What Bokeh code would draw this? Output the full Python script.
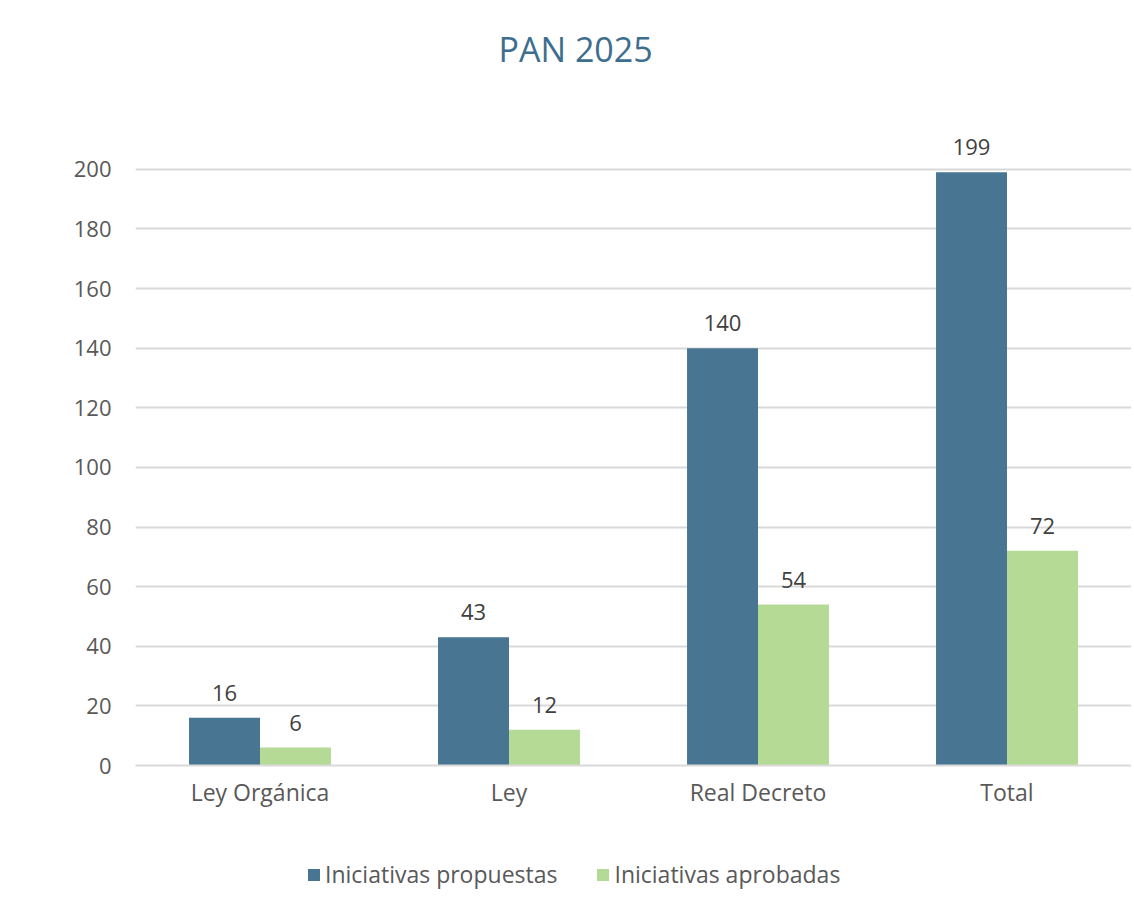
from bokeh.plotting import figure
from bokeh.models import FactorRange, Range1d, FixedTicker, Legend, LegendItem, ColumnDataSource, Title
from bokeh.layouts import column
from bokeh.transform import dodge
from bokeh.core.properties import value
from bokeh.embed import file_html
from bokeh.resources import INLINE

categories = ["Ley Orgánica", "Ley", "Real Decreto", "Total"]
propuestas = [16, 43, 140, 199]
aprobadas = [6, 12, 54, 72]
series_names = ["Iniciativas propuestas", "Iniciativas aprobadas"]
y_ticks = list(range(0, 201, 20))
title_text = "PAN 2025"

BLUE = "#477592"
GREEN = "#B5DA96"
FONT = "Open Sans"

src = ColumnDataSource(dict(
    cat=categories,
    prop=propuestas,
    apr=aprobadas,
    prop_lbl=[str(v) for v in propuestas],
    apr_lbl=[str(v) for v in aprobadas],
))

xr = FactorRange(factors=categories, range_padding=0)
p = figure(
    x_range=xr,
    y_range=Range1d(0, 212),
    frame_width=996, frame_height=632,
    min_border_left=135, min_border_right=0,
    min_border_top=133, min_border_bottom=45,
    output_backend="svg", toolbar_location=None,
)

# spacer between the title and the plot area, then the title itself
p.add_layout(Title(text=" ", text_font_size="10px", standoff=49), "above")
p.add_layout(Title(text=title_text, text_font=FONT, text_font_size="34px",
                   text_font_style="normal", text_color="#3E6E8E",
                   align="left", offset=363, standoff=0), "above")

bw = 0.285
p.vbar(x=dodge("cat", -bw / 2, range=xr), top="prop", width=bw, source=src,
       fill_color=BLUE, line_color=None)
p.vbar(x=dodge("cat", bw / 2, range=xr), top="apr", width=bw, source=src,
       fill_color=GREEN, line_color=None)

p.text(x=dodge("cat", -bw / 2, range=xr), y="prop", text="prop_lbl", source=src,
       text_align="center", text_baseline="bottom", y_offset=-17,
       text_font=value(FONT), text_font_size="22px", text_color="#404040")
p.text(x=dodge("cat", bw / 2, range=xr), y="apr", text="apr_lbl", source=src,
       text_align="center", text_baseline="bottom", y_offset=-17,
       text_font=value(FONT), text_font_size="22px", text_color="#404040")

p.outline_line_color = None
p.xgrid.grid_line_color = None
p.ygrid.grid_line_color = "#D9D9D9"
p.ygrid.grid_line_width = 2
p.yaxis.ticker = FixedTicker(ticks=y_ticks)

p.yaxis.axis_line_color = None
p.yaxis.major_tick_line_color = None
p.yaxis.minor_tick_line_color = None
p.yaxis.major_label_standoff = 18
p.yaxis.major_label_text_font = FONT
p.yaxis.major_label_text_font_size = "22px"
p.yaxis.major_label_text_color = "#595959"

p.xaxis.axis_line_color = "#D9D9D9"
p.xaxis.axis_line_width = 2
p.xaxis.major_tick_line_color = None
p.xaxis.minor_tick_line_color = None
p.xaxis.major_label_standoff = 4
p.xaxis.major_label_text_font = FONT
p.xaxis.major_label_text_font_size = "23px"
p.xaxis.major_label_text_color = "#595959"

# legend strip below the chart
lg = figure(
    x_range=xr, y_range=Range1d(1000, 1001),
    width=1131, height=90,
    min_border_left=0, min_border_right=0, min_border_top=0, min_border_bottom=0,
    x_axis_type=None, y_axis_type=None,
    output_backend="svg", toolbar_location=None,
)
lg.outline_line_color = None
lg.xgrid.grid_line_color = None
lg.ygrid.grid_line_color = None
k1 = lg.vbar(x=dodge("cat", -bw / 2, range=xr), top="prop", width=bw, source=src,
             fill_color=BLUE, line_color=None)
k2 = lg.vbar(x=dodge("cat", bw / 2, range=xr), top="apr", width=bw, source=src,
             fill_color=GREEN, line_color=None)

legend = Legend(
    items=[LegendItem(label=series_names[0], renderers=[k1]),
           LegendItem(label=series_names[1], renderers=[k2])],
    orientation="horizontal", location=(171, 10),
    glyph_width=15, glyph_height=15, label_standoff=4, spacing=38,
    label_text_font=FONT, label_text_font_size="23px", label_text_color="#595959",
    border_line_color=None, background_fill_alpha=0, padding=5, margin=0,
)
lg.add_layout(legend)

layout = column(p, lg, spacing=0)
open("out.html", "w").write(file_html(layout, INLINE))
